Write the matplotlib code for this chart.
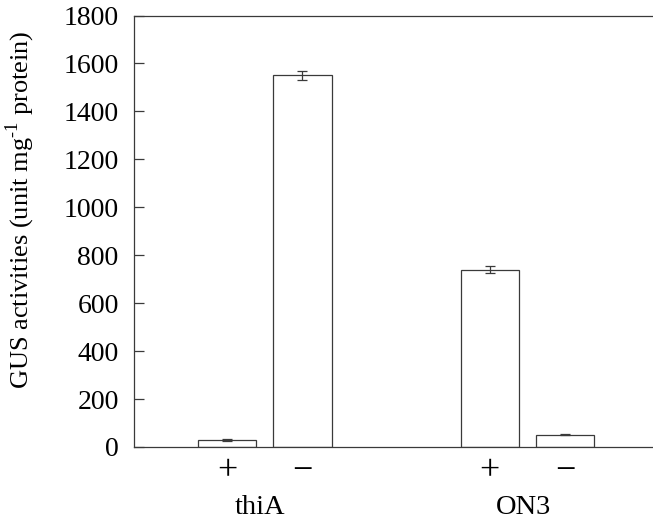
import numpy as np
import matplotlib.pyplot as plt

plt.rcParams['font.family'] = ['Liberation Serif', 'DejaVu Serif']
plt.rcParams['mathtext.fontset'] = 'custom'
plt.rcParams['mathtext.rm'] = 'Liberation Serif'

# data
groups = ['thiA', 'ON3']
signs = ['+', '\u2212', '+', '\u2212']
values = [30, 1550, 740, 52]
errors = [4, 20, 15, 4]

pos = np.array([0, 1, 3.48, 4.48])
line_c = '#3a3a3a'

fig = plt.figure(figsize=(6.53, 5.24), dpi=100)
ax = fig.add_axes([134/653, 1 - 447/524, 1 - 134/653, (447 - 15.5)/524])

ax.bar(pos, values, width=0.77, color='white', edgecolor=line_c, linewidth=0.9)
ax.errorbar(pos, values, yerr=errors, fmt='none', ecolor=line_c,
            elinewidth=0.9, capsize=3.5, capthick=0.9)

ax.set_xlim(-1.23, 5.64)
ax.set_ylim(0, 1800)
ax.set_yticks(np.arange(0, 1801, 200))
ax.set_xticks(pos)
ax.set_xticklabels(signs, fontsize=26)
ax.tick_params(axis='x', length=0, pad=6)
ax.tick_params(axis='y', direction='in', length=7, width=0.9, color=line_c,
               labelsize=20, pad=11)

ax.spines['right'].set_visible(False)
for s in ['left', 'top', 'bottom']:
    ax.spines[s].set_color(line_c)
    ax.spines[s].set_linewidth(0.9)

for i, g in enumerate(groups):
    cx = (pos[2*i] + pos[2*i+1]) / 2 - 0.06
    ax.text(cx, -0.14, g, transform=ax.get_xaxis_transform(),
            ha='center', va='center', fontsize=20.5)

ax.set_ylabel('GUS activities (unit mg$^{\\text{-1}}$ protein)', fontsize=19)
ax.yaxis.set_label_coords(-0.187, 0.549)

fig.savefig('out.png', dpi=100)
